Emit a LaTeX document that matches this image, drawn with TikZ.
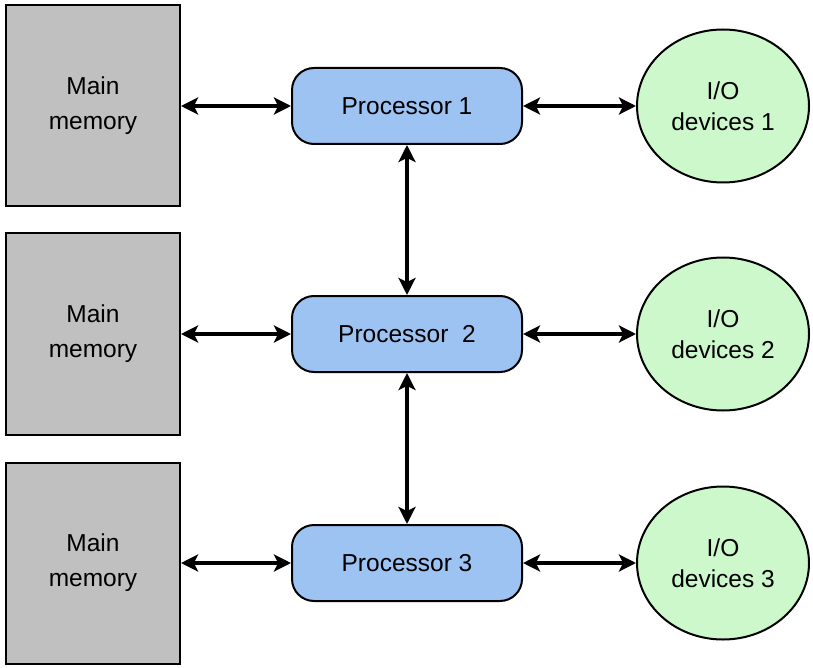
\documentclass[tikz,border=0pt]{standalone}
\usepackage{fontspec}
\setmainfont{Liberation Sans}
\usetikzlibrary{arrows.meta,shapes.geometric}
\definecolor{memgray}{HTML}{C0C0C0}
\definecolor{procblue}{HTML}{9DC3F3}
\definecolor{iogreen}{HTML}{CCF8CC}
\begin{document}
\begin{tikzpicture}[x=1pt,y=-1pt,
  mem/.style={draw=black,line width=2pt,fill=memgray,minimum width=174pt,minimum height=201pt,inner sep=0pt,align=center,font=\fontsize{24.5}{35}\selectfont},
  proc/.style={draw=black,line width=2pt,fill=procblue,rounded corners=22pt,minimum width=230pt,minimum height=76pt,inner sep=0pt,align=center,font=\fontsize{24.5}{30}\selectfont},
  io/.style={draw=black,line width=2pt,fill=iogreen,ellipse,minimum width=172pt,minimum height=153pt,inner sep=0pt,align=center,font=\fontsize{24.5}{31}\selectfont},
  link/.style={line width=4pt,{Stealth[length=17pt,width=17pt,inset=4pt]}-{Stealth[length=17pt,width=17pt,inset=4pt]}}
]
\useasboundingbox (0,0) rectangle (813,668);
\node[mem] (m1) at (93,106) {Main\\memory};
\node[mem] (m2) at (93,334) {Main\\memory};
\node[mem] (m3) at (93,563) {Main\\memory};
\node[proc] (p1) at (407,106) {Processor 1};
\node[proc] (p2) at (407,334) {Processor\ \ 2};
\node[proc] (p3) at (407,563) {Processor 3};
\node[io] (d1) at (723,106) {I/O\\devices 1};
\node[io] (d2) at (723,334) {I/O\\devices 2};
\node[io] (d3) at (723,563) {I/O\\devices 3};
\foreach \i in {1,2,3}{
  \draw[link] (m\i.east) -- (p\i.west);
  \draw[link] (p\i.east) -- (d\i.west);
}
\draw[link] (p1.south) -- (p2.north);
\draw[link] (p2.south) -- (p3.north);
\end{tikzpicture}
\end{document}
